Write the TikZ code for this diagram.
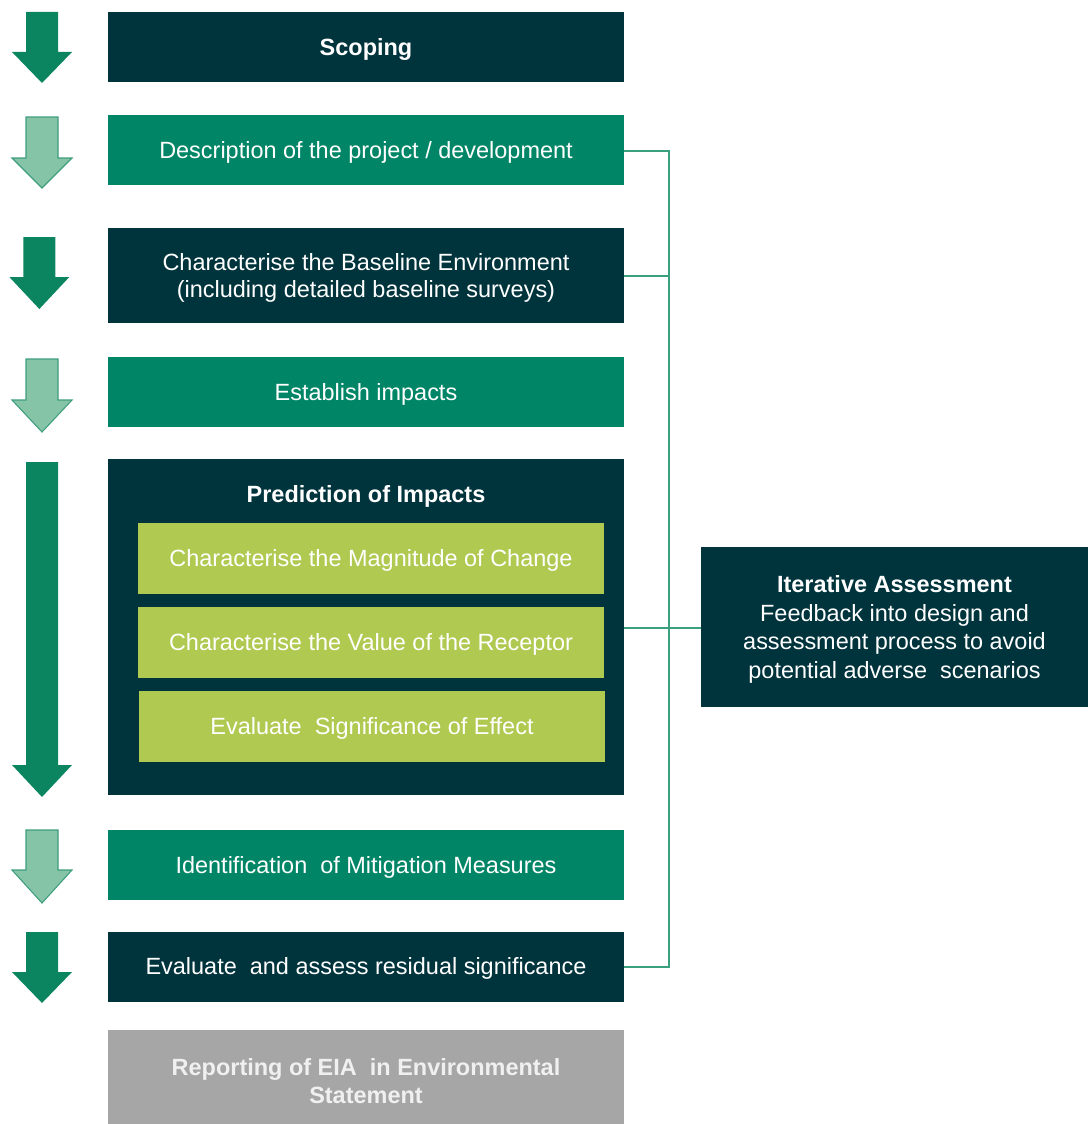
\documentclass[tikz,border=0pt]{standalone}
\usepackage{fontspec}
\setmainfont{Liberation Sans}
\definecolor{navy}{HTML}{00343D}
\definecolor{midgreen}{HTML}{008666}
\definecolor{lime}{HTML}{B0C951}
\definecolor{paleteal}{HTML}{86C4A8}
\definecolor{tealedge}{HTML}{3F9E7E}
\definecolor{darkarrow}{HTML}{0A8560}
\definecolor{stone}{HTML}{A6A6A6}
\definecolor{linkgreen}{HTML}{3AA07E}
% down arrow: #1 style, #2 top, #3 neck, #4 tip, #5 x shift
\newcommand\flowarrow[5]{%
  \path[#1,xshift=#5] (26,#2) -- (58,#2) -- (58,#3) -- (72,#3) -- (42,#4)
    -- (12,#3) -- (26,#3) -- cycle;}
\begin{document}
\begin{tikzpicture}[x=0.75pt,y=-0.75pt,
  every node/.style={font=\fontsize{17.6}{21}\selectfont, align=center, inner sep=0pt},
  oneline/.style={text height=12.6pt, text depth=0pt},
  stage/.style={minimum width=387pt, minimum height=52.5pt},
  navybox/.style={stage, fill=navy, text=white},
  greenbox/.style={stage, fill=midgreen, text=white},
  limebox/.style={oneline, fill=lime, text=white, minimum width=349.5pt, minimum height=53.25pt},
  solidarrow/.style={fill=darkarrow},
  palearrow/.style={fill=paleteal, draw=tealedge, line width=0.8pt},
  link/.style={draw=linkgreen, line width=1.4pt}]
\path[use as bounding box] (0,0) rectangle (1088,1124);

% process stages
\node[navybox, oneline, font=\fontsize{17.6}{21}\selectfont\bfseries] (scoping) at (366,47) {Scoping};
\node[greenbox, oneline] (desc) at (366,150) {Description of the project / development};
\node[navybox, minimum height=71.25pt, font=\fontsize{17.6}{20.5}\selectfont] (base) at (366,275.5)
  {\rule{0pt}{16.7pt}Characterise the Baseline Environment\\(including detailed baseline surveys)};
\node[greenbox, oneline] (estab) at (366,392) {Establish impacts};
\node[navybox, minimum height=252pt] (pred) at (366,627) {};
\node[oneline, text=white, font=\fontsize{17.6}{21}\selectfont\bfseries] (predtitle) at (366,494) {Prediction of Impacts};
\node[limebox] (magn) at (371,558.5) {Characterise the Magnitude of Change};
\node[limebox] (recep) at (371,642.5) {Characterise the Value of the Receptor};
\node[limebox] (signif) at (372,726.5) {Evaluate\ \ Significance of Effect};
\node[greenbox, oneline] (mitig) at (366,865) {Identification\ \ of Mitigation Measures};
\node[navybox, oneline] (resid) at (366,966.5) {Evaluate\ \ and assess residual significance};
\node[stage, fill=stone, text=white!94!black, minimum height=70.5pt,
  font=\fontsize{17.6}{21.2}\selectfont\bfseries] (report) at (366,1077)
  {\rule{0pt}{18.9pt}Reporting of EIA\ \ in Environmental\\Statement};

% iterative feedback box
\node[fill=navy, text=white, minimum width=290.25pt, minimum height=120pt,
  font=\fontsize{17.6}{21.5}\selectfont] (iter) at (894.5,627)
  {\rule{0pt}{16.2pt}\textbf{Iterative Assessment}\\Feedback into design and\\assessment process to avoid\\potential adverse\ \ scenarios};

% feedback connectors
\coordinate (bus) at (669,0);
\draw[link] (desc.east |- 0,151) -| (bus |- 0,967) -- (resid.east |- 0,967);
\draw[link] (base.east |- 0,276) -- (bus |- 0,276);
\draw[link] (pred.east |- 0,628) -- (iter.west |- 0,628);

% flow arrows
\flowarrow{solidarrow}{12}{52}{83}{0}
\flowarrow{palearrow}{117}{158}{188}{0}
\flowarrow{solidarrow}{237}{277}{309}{-2}
\flowarrow{palearrow}{359}{400}{432}{0}
\flowarrow{solidarrow}{462}{765}{797}{0}
\flowarrow{palearrow}{830}{870}{903}{0}
\flowarrow{solidarrow}{932}{972}{1003}{0}
\end{tikzpicture}
\end{document}
